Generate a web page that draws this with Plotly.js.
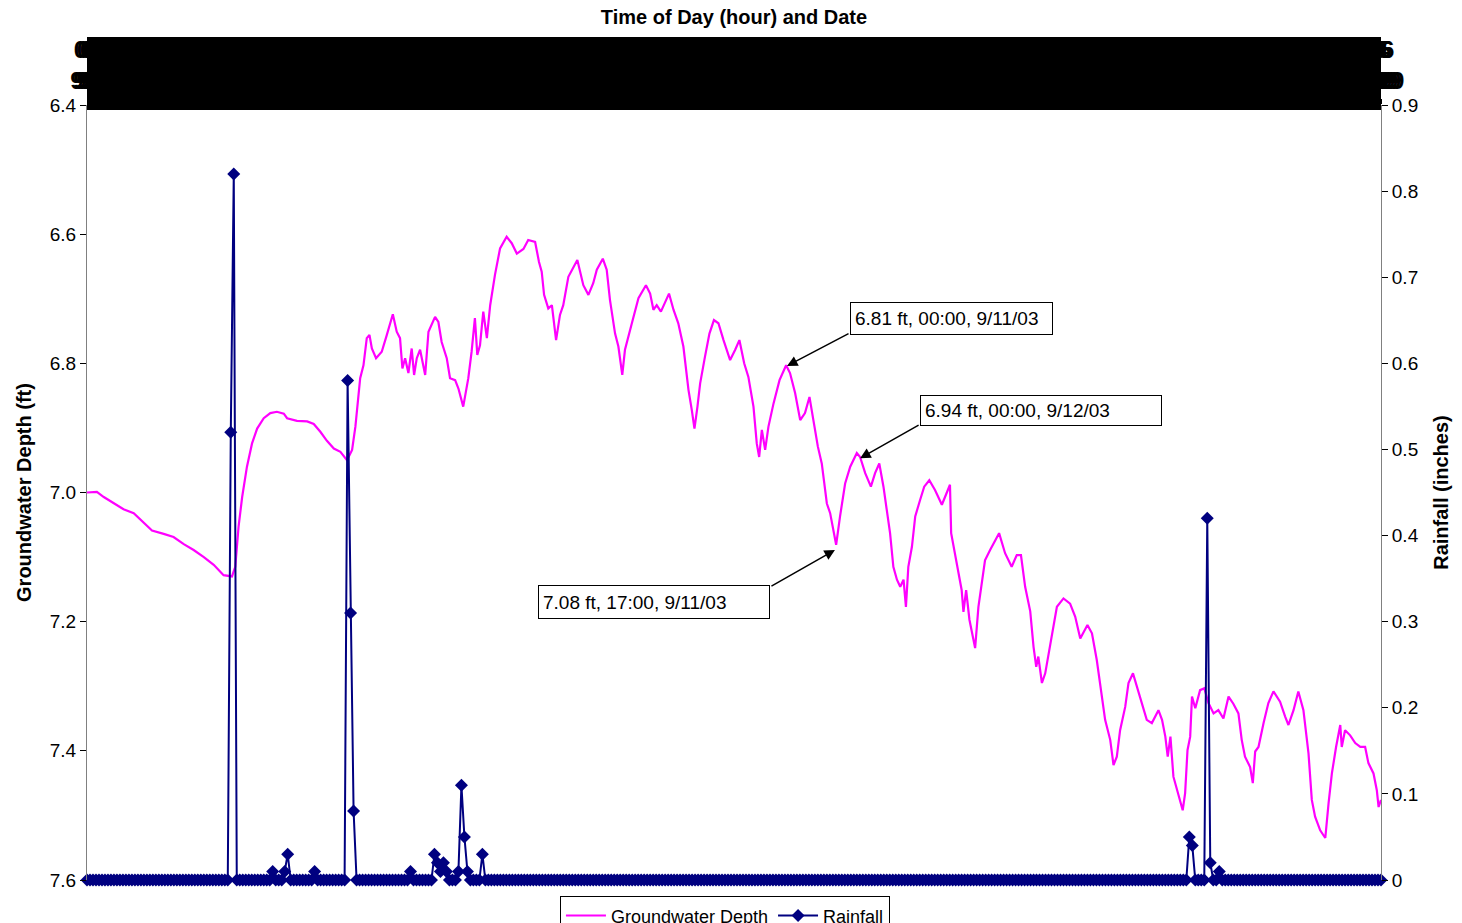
<!DOCTYPE html>
<html>
<head>
<meta charset="utf-8">
<script src="https://cdn.plot.ly/plotly-3.0.1.min.js"></script>
<style>html,body{margin:0;padding:0;background:#fff;}#chart{width:1462px;height:923px;}</style>
</head>
<body>
<div id="chart"></div>
<script>
// Hours elapsed since 9/1/03 06:00 and groundwater depth (ft)
const gwHour = [0,3.3,5.6,8.9,12.2,15.6,18.4,21.7,25.6,28.9,32.3,35.6,39.0,42.3,45.6,48.4,49.5,50.6,51.8,53.4,55.1,56.8,59.0,61.2,63.4,65.7,66.8,70.1,73.5,75.7,77.9,80.1,82.4,84.6,86.8,88.5,89.6,91.2,92.3,93.4,94.3,95.1,96.5,98.4,100.1,102.1,103.4,104.5,105.3,106.2,107.3,108.4,109.2,110.1,111.2,112.9,114.0,116.2,117.3,118.4,120.1,121.2,122.9,124.0,125.6,127.3,128.4,129.5,130.3,131.2,132.3,133.5,134.6,136.2,137.9,140.1,141.8,143.5,145.7,147.3,149.6,150.9,151.8,152.6,154.0,155.2,156.6,157.9,159.0,160.7,163.7,165.7,167.4,169.0,170.2,172.2,173.5,174.6,176.3,177.4,178.7,179.6,181.9,184.1,186.6,188.0,189.1,190.2,191.6,194.3,195.8,197.4,199.1,200.8,201.9,202.8,203.8,204.7,206.3,207.8,209.3,210.8,212.5,214.7,216.4,217.8,219.4,220.8,222.5,223.6,224.4,225.3,226.4,227.5,229.2,231.2,233.4,234.7,236.4,238.1,239.7,241.2,242.5,244.0,245.3,247.0,248.1,249.0,250.1,251.4,253.1,254.8,257.0,258.1,259.8,261.7,263.1,264.5,265.9,267.0,268.1,269.2,270.4,271.5,272.6,273.4,274.2,275.4,276.5,278.1,279.5,281.2,283.1,285.4,287.0,288.1,288.5,289.8,290.9,292.0,292.6,293.5,294.6,295.7,296.5,297.6,298.7,299.8,301.5,303.2,304.5,306.5,308.7,310.4,311.8,313.2,314.9,316.0,316.9,317.6,318.8,319.9,321.0,322.1,323.8,326.0,328.2,329.9,331.6,334.0,335.5,337.1,338.8,339.9,341.6,342.7,343.8,344.9,346.6,347.7,349.2,350.5,352.2,353.8,355.5,357.7,358.9,360.0,360.8,361.7,362.7,363.9,365.0,365.8,366.6,367.4,368.3,368.9,370.0,371.6,373.0,374.4,376.1,377.7,379.4,381.1,382.7,384.4,385.5,386.6,388.3,389.2,390.0,391.1,392.8,394.4,396.1,398.3,400.0,401.1,402.8,404.4,406.1,407.8,408.9,410.0,411.7,413.4,414.5,415.6,417.0,418.4,418.9,420.0,421.7,423.4,425.1,426.7,427.8,429.5,430.6,431.2,432.0];
const gwDepth = [7.000,6.999,7.007,7.017,7.026,7.032,7.045,7.059,7.064,7.069,7.080,7.089,7.100,7.112,7.128,7.130,7.115,7.053,7.007,6.960,6.924,6.901,6.885,6.877,6.875,6.878,6.885,6.889,6.890,6.894,6.906,6.920,6.932,6.937,6.950,6.934,6.898,6.823,6.803,6.761,6.756,6.777,6.792,6.782,6.756,6.724,6.751,6.761,6.808,6.792,6.815,6.777,6.818,6.792,6.779,6.818,6.751,6.728,6.736,6.767,6.792,6.823,6.826,6.839,6.867,6.823,6.782,6.730,6.787,6.772,6.720,6.761,6.710,6.663,6.622,6.604,6.614,6.630,6.623,6.609,6.612,6.643,6.658,6.694,6.715,6.710,6.764,6.725,6.710,6.666,6.640,6.679,6.694,6.676,6.655,6.638,6.655,6.702,6.754,6.774,6.818,6.779,6.738,6.699,6.679,6.692,6.717,6.710,6.720,6.692,6.717,6.738,6.774,6.841,6.872,6.901,6.867,6.831,6.790,6.754,6.733,6.738,6.764,6.795,6.779,6.764,6.800,6.821,6.867,6.924,6.945,6.903,6.934,6.898,6.862,6.826,6.803,6.815,6.846,6.888,6.877,6.852,6.888,6.929,6.955,7.017,7.032,7.053,7.081,7.037,6.986,6.960,6.939,6.945,6.970,6.991,6.970,6.955,6.991,7.027,7.063,7.115,7.135,7.146,7.135,7.177,7.115,7.084,7.037,7.012,6.991,6.981,6.996,7.019,7.001,6.988,7.063,7.094,7.120,7.151,7.185,7.151,7.197,7.223,7.241,7.177,7.141,7.105,7.089,7.074,7.063,7.094,7.115,7.097,7.097,7.146,7.184,7.239,7.270,7.254,7.295,7.280,7.249,7.218,7.177,7.164,7.172,7.192,7.226,7.205,7.218,7.259,7.311,7.352,7.383,7.422,7.409,7.368,7.332,7.295,7.280,7.301,7.326,7.352,7.357,7.337,7.352,7.378,7.409,7.378,7.440,7.461,7.476,7.492,7.466,7.399,7.378,7.316,7.334,7.306,7.303,7.326,7.342,7.337,7.350,7.316,7.327,7.342,7.383,7.409,7.425,7.450,7.401,7.394,7.357,7.326,7.308,7.324,7.347,7.360,7.337,7.308,7.337,7.404,7.476,7.502,7.523,7.535,7.481,7.435,7.394,7.360,7.394,7.368,7.376,7.388,7.394,7.394,7.419,7.435,7.461,7.487,7.476];

// Hourly rainfall: hours with rain (hours since 9/1/03 06:00) and amounts (inches); all other hours 0
const rainEventHour = [48,49,62,66,67,76,87,88,89,108,116,117,118,119,120,124,125,126,127,132,368,369,374,375,378];
const rainEventInches = [0.52,0.82,0.01,0.01,0.03,0.01,0.58,0.31,0.08,0.01,0.03,0.02,0.01,0.02,0.01,0.01,0.11,0.05,0.01,0.03,0.05,0.04,0.42,0.02,0.01];
const totalHours = 432;
const startHourOfDay = 6;   // first reading 06:00
const startDay = 1;         // 9/1/03

const rainHour = [];
const rainInches = [];
for (let h = 0; h <= totalHours; h++) {
  rainHour.push(h);
  const k = rainEventHour.indexOf(h);
  rainInches.push(k >= 0 ? rainEventInches[k] : 0);
}

// Top axis tick labels: hour of day and date for every hour
const tickHours = [];
const tickLabels = [];
for (let h = 0; h <= totalHours; h++) {
  const t = startHourOfDay + h;
  const hr = t % 24;
  const day = startDay + Math.floor(t / 24);
  tickHours.push(h);
  tickLabels.push((hr < 10 ? '0' : '') + hr + '<br>9/' + day);
}

const leftTicks = [6.4, 6.6, 6.8, 7.0, 7.2, 7.4, 7.6];
const rightTicks = [0, 0.1, 0.2, 0.3, 0.4, 0.5, 0.6, 0.7, 0.8, 0.9];

const FONT = '"Liberation Sans", Arial, sans-serif';

const traces = [
  {
    x: gwHour, y: gwDepth, type: 'scatter', mode: 'lines',
    name: 'Groundwater Depth', line: {color: '#FF00FF', width: 2.2},
    xaxis: 'x', yaxis: 'y', hoverinfo: 'x+y'
  },
  {
    x: rainHour, y: rainInches, type: 'scatter', mode: 'lines+markers',
    name: 'Rainfall', line: {color: '#000080', width: 2},
    marker: {symbol: 'diamond', size: 10, color: '#000080', line: {width: 0}},
    cliponaxis: false,
    xaxis: 'x', yaxis: 'y2'
  }
];

const layout = {
  width: 1462, height: 923,
  margin: {l: 87, r: 81, t: 105, b: 43, autoexpand: false},
  paper_bgcolor: '#ffffff', plot_bgcolor: '#ffffff',
  font: {family: FONT, color: '#000000', size: 19},
  title: {
    text: '<b>Time of Day (hour) and Date</b>',
    font: {family: FONT, size: 20, color: '#000'},
    xref: 'paper', x: 0.5, xanchor: 'center',
    yref: 'container', y: 1 - 17/923, yanchor: 'middle'
  },
  xaxis: {
    range: [0, totalHours], side: 'top',
    tickmode: 'array', tickvals: tickHours, ticktext: tickLabels,
    tickangle: 0, tickfont: {family: FONT, size: 24, color: '#000', weight: 'bold'},
    ticks: 'outside', ticklen: 5, tickcolor: '#000',
    showline: false, showgrid: false, zeroline: false
  },
  yaxis: {
    range: [7.6, 6.4], tickmode: 'array', tickvals: leftTicks,
    ticktext: leftTicks.map(v => v.toFixed(1)),
    ticks: 'outside', ticklen: 6, tickcolor: '#000',
    tickfont: {family: FONT, size: 19},
    showline: true, linecolor: '#808080', linewidth: 1,
    showgrid: false, zeroline: false,
    title: {text: '<b>Groundwater Depth (ft)</b>', font: {family: FONT, size: 20}, standoff: 12}
  },
  yaxis2: {
    overlaying: 'y', side: 'right', range: [0, 0.9],
    tickmode: 'array', tickvals: rightTicks, ticktext: rightTicks.map(v => v === 0 ? '0' : String(v)),
    ticks: 'outside', ticklen: 6, tickcolor: '#000',
    tickfont: {family: FONT, size: 19},
    showline: true, linecolor: '#808080', linewidth: 1,
    showgrid: false, zeroline: false,
    title: {text: '<b>Rainfall (inches)</b>', font: {family: FONT, size: 20}, standoff: 16}
  },
  yaxis3: {
    overlaying: 'y', side: 'right', anchor: 'x', range: [0, 0.9],
    tickmode: 'array', tickvals: rightTicks, showticklabels: false,
    ticks: 'inside', ticklen: 6, tickcolor: '#000',
    showline: false, showgrid: false, zeroline: false
  },
  showlegend: true,
  legend: {
    orientation: 'h', x: 0.493, xanchor: 'center', y: -0.021, yanchor: 'top',
    bgcolor: '#ffffff', bordercolor: '#000000', borderwidth: 1,
    font: {family: FONT, size: 18}, itemwidth: 40, tracegroupgap: 0
  },
  shapes: [
    {type: 'rect', xref: 'paper', yref: 'paper', x0: 0, x1: 1,
     y0: (880-110)/775, y1: (880-37)/775, fillcolor: '#000000', line: {width: 0}, layer: 'above'}
  ],
  annotations: [
    {xref: 'paper', yref: 'paper', x: (951.5-87)/1294, y: (880-318.5)/775, xanchor: 'center', yanchor: 'middle',
     text: '6.81 ft, 00:00, 9/11/03', showarrow: false, align: 'left', width: 193, height: 23,
     bgcolor: '#fff', bordercolor: '#000', borderwidth: 1, borderpad: 4, font: {family: FONT, size: 19}},
    {xref: 'paper', yref: 'paper', x: (1041-87)/1294, y: (880-410.5)/775, xanchor: 'center', yanchor: 'middle',
     text: '6.94 ft, 00:00, 9/12/03', showarrow: false, align: 'left', width: 232, height: 21,
     bgcolor: '#fff', bordercolor: '#000', borderwidth: 1, borderpad: 4, font: {family: FONT, size: 19}},
    {xref: 'paper', yref: 'paper', x: (654-87)/1294, y: (880-602)/775, xanchor: 'center', yanchor: 'middle',
     text: '7.08 ft, 17:00, 9/11/03', showarrow: false, align: 'left', width: 222, height: 24,
     bgcolor: '#fff', bordercolor: '#000', borderwidth: 1, borderpad: 4, font: {family: FONT, size: 19}},
    {xref: 'x', yref: 'y', x: 233.7, y: 6.804, text: '', showarrow: true, ax: 63, ay: -33,
     arrowhead: 2, arrowsize: 1.4, arrowwidth: 1.5, arrowcolor: '#000', standoff: 0},
    {xref: 'x', yref: 'y', x: 258.1, y: 6.947, text: '', showarrow: true, ax: 60, ay: -34,
     arrowhead: 2, arrowsize: 1.4, arrowwidth: 1.5, arrowcolor: '#000', standoff: 0},
    {xref: 'x', yref: 'y', x: 249.7, y: 7.089, text: '', showarrow: true, ax: -65, ay: 37,
     arrowhead: 2, arrowsize: 1.4, arrowwidth: 1.5, arrowcolor: '#000', standoff: 0}
  ]
};

Plotly.newPlot('chart', traces, layout, {displayModeBar: false, staticPlot: true});
</script>
</body>
</html>
